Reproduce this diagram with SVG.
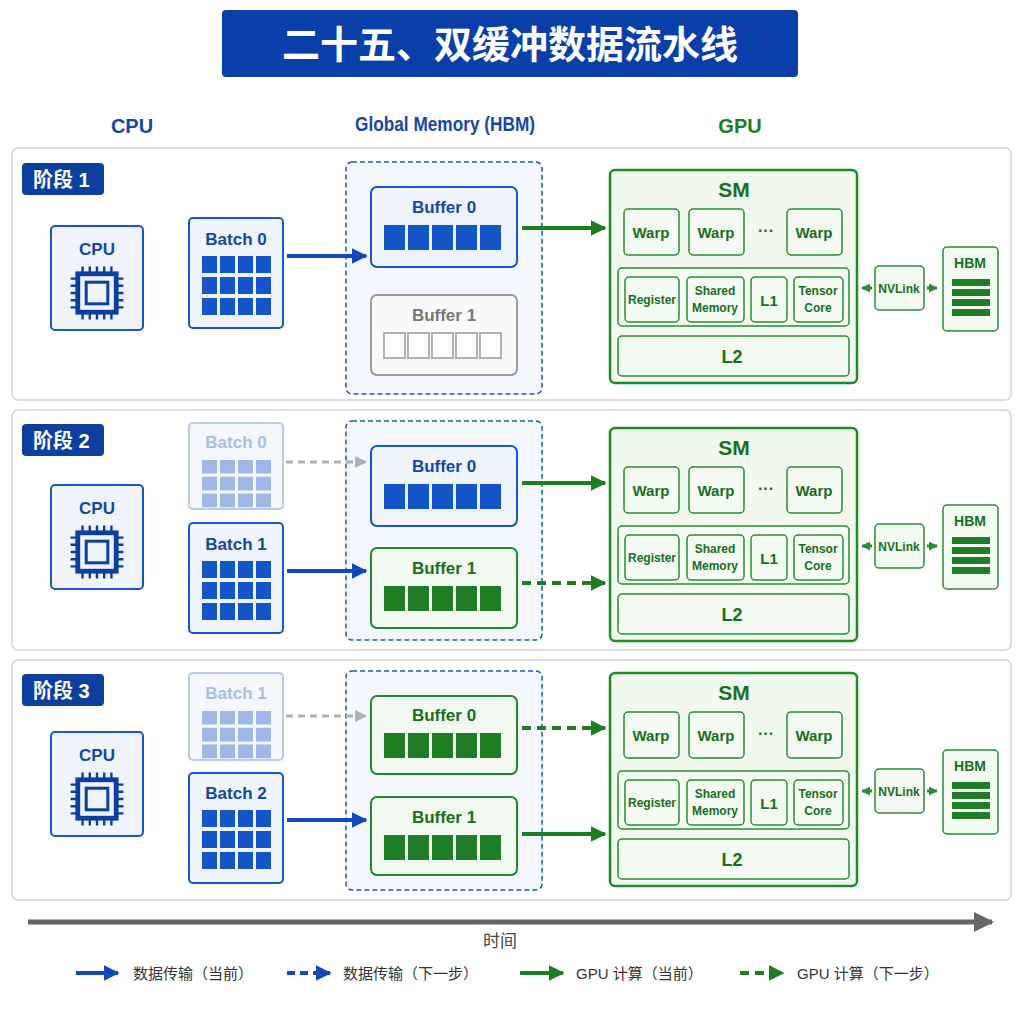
<svg xmlns="http://www.w3.org/2000/svg" xmlns:xlink="http://www.w3.org/1999/xlink" width="1024" height="1024" viewBox="0 0 1024 1024">
<style>
text{font-family:"Liberation Sans","Noto Sans CJK SC",sans-serif;font-weight:bold;text-anchor:middle}
.panel{fill:#fff;stroke:#d4d4d4;stroke-width:1.5}
.stage{fill:#0d3f9f}
.stxt{fill:#fff;font-size:20px;text-anchor:start}
.bbox{fill:#eef3fc;stroke:#1a56c8;stroke-width:2}
.bt{fill:#1747a6;font-size:17px}
.fbox{fill:#f4f7fd;stroke:#b7cbef;stroke-width:2}
.ft{fill:#a9bde6;font-size:17px}
.bc{fill:#1456c8}
.fc{fill:#9fb8e8}
.gbox{fill:#f2f9f0;stroke:#1e8a2a;stroke-width:2}
.gt{fill:#1a6e22;font-size:17px}
.gc{fill:#1f7d25}
.grbox{fill:#fafafa;stroke:#9a9a9a;stroke-width:2}
.grt{fill:#777;font-size:17px}
.gec{fill:#fff;stroke:#999;stroke-width:1.5}
.mem{fill:#f4f7fd;stroke:#1a56c8;stroke-width:1.5;stroke-dasharray:5 3}
.sm{fill:#f1f9ef;stroke:#1e8a2a;stroke-width:2.5}
.smi{fill:#f3faf1;stroke:#2e8a36;stroke-width:1.5}
.smt{fill:#1a6e22}
.hdr{fill:#1747a6;font-size:20px}
.ab{stroke:#1447b8;stroke-width:4;fill:none}
.ag{stroke:#1e7d22;stroke-width:4;fill:none}
.agd{stroke:#1e7d22;stroke-width:4;fill:none;stroke-dasharray:9 6}
.agr{stroke:#b0b0b0;stroke-width:3;fill:none;stroke-dasharray:7 5}
.lg{fill:#333;font-size:15px;font-weight:normal;text-anchor:start}
.nv{stroke:#2e8a36;stroke-width:3;fill:none}
</style>
<defs>
<marker id="mb" viewBox="0 0 10 10" refX="9" refY="5" markerWidth="4" markerHeight="4" orient="auto" markerUnits="strokeWidth"><path d="M0 0L10 5L0 10z" fill="#1447b8"/></marker>
<marker id="mg" viewBox="0 0 10 10" refX="9" refY="5" markerWidth="4" markerHeight="4" orient="auto" markerUnits="strokeWidth"><path d="M0 0L10 5L0 10z" fill="#1e7d22"/></marker>
<marker id="mgs" viewBox="0 0 10 10" refX="9" refY="5" markerWidth="3" markerHeight="3" orient="auto" markerUnits="strokeWidth"><path d="M0 0L10 5L0 10z" fill="#2e8a36"/></marker>
<marker id="mgr" viewBox="0 0 10 10" refX="9" refY="5" markerWidth="4" markerHeight="4" orient="auto" markerUnits="strokeWidth"><path d="M0 0L10 5L0 10z" fill="#b0b0b0"/></marker>
<marker id="mk" viewBox="0 0 10 10" refX="9" refY="5" markerWidth="4" markerHeight="4" orient="auto" markerUnits="strokeWidth"><path d="M0 0L10 5L0 10z" fill="#666"/></marker>
<g id="chip">
<rect x="-16" y="-16" width="32" height="32" fill="none" stroke="#0d3f9f" stroke-width="4"/>
<rect x="-9" y="-9" width="18" height="18" fill="none" stroke="#0d3f9f" stroke-width="2.5"/>
<path d="M-12-22v6M-6-22v6M0-22v6M6-22v6M12-22v6M-12 16v6M-6 16v6M0 16v6M6 16v6M12 16v6M-22-12h6M-22-6h6M-22 0h6M-22 6h6M-22 12h6M16-12h6M16-6h6M16 0h6M16 6h6M16 12h6" stroke="#0d3f9f" stroke-width="2"/>
</g>
<g id="cpu"><rect x="51" y="0" width="92" height="104" rx="4" class="bbox"/><text x="97" y="29" class="bt" font-size="19">CPU</text><use xlink:href="#chip" transform="translate(97 67) scale(1.2)"/></g>
<g id="grid12b"><path d="M202 0h15v17h-15zM220 0h15v17h-15zM238 0h15v17h-15zM256 0h15v17h-15zM202 21h15v17h-15zM220 21h15v17h-15zM238 21h15v17h-15zM256 21h15v17h-15zM202 42h15v17h-15zM220 42h15v17h-15zM238 42h15v17h-15zM256 42h15v17h-15z"/></g>
<path id="cells5" d="M384 0h21v25h-21zM408 0h21v25h-21zM432 0h21v25h-21zM456 0h21v25h-21zM480 0h21v25h-21z"/>
<g id="gpu">
<rect x="610" y="0" width="247" height="213" rx="5" class="sm"/>
<text x="734" y="27" class="smt" font-size="21">SM</text>
<rect x="624" y="39" width="55" height="46" rx="4" class="smi"/><text x="651" y="68" class="smt" font-size="15">Warp</text>
<rect x="689" y="39" width="55" height="46" rx="4" class="smi"/><text x="716" y="68" class="smt" font-size="15">Warp</text>
<text x="766" y="66" class="smt" font-size="16">···</text>
<rect x="787" y="39" width="55" height="46" rx="4" class="smi"/><text x="814" y="68" class="smt" font-size="15">Warp</text>
<rect x="618" y="98" width="231" height="58" rx="4" class="smi"/>
<rect x="625" y="107" width="54" height="45" rx="4" class="smi"/><text x="652" y="134" class="smt" font-size="12">Register</text>
<rect x="687" y="107" width="57" height="45" rx="4" class="smi"/><text x="715" y="125" class="smt" font-size="12">Shared</text><text x="715" y="142" class="smt" font-size="12">Memory</text>
<rect x="751" y="107" width="36" height="45" rx="4" class="smi"/><text x="769" y="136" class="smt" font-size="15">L1</text>
<rect x="794" y="107" width="49" height="45" rx="4" class="smi"/><text x="818" y="125" class="smt" font-size="12">Tensor</text><text x="818" y="142" class="smt" font-size="12">Core</text>
<rect x="618" y="166" width="231" height="40" rx="4" class="smi"/><text x="732" y="193" class="smt" font-size="18">L2</text>
<rect x="875" y="96" width="49" height="44" rx="4" class="smi"/><text x="899" y="123" class="smt" font-size="12">NVLink</text>
<path d="M872 118h-10" class="nv" marker-end="url(#mgs)"/>
<path d="M927 118h10" class="nv" marker-end="url(#mgs)"/>
<rect x="943" y="77" width="55" height="84" rx="4" class="smi"/><text x="970" y="98" class="smt" font-size="14">HBM</text>
<path d="M952 109h38v7h-38zM952 119h38v7h-38zM952 129h38v7h-38zM952 139h38v7h-38z" fill="#1f7d25"/>
</g>
</defs>

<g id="title"><rect x="222" y="10" width="576" height="67" rx="4" fill="#0a3ea8"/><text x="510" y="58" fill="#fff" font-size="38">二十五、双缓冲数据流水线</text></g>
<g id="headers"><text x="132" y="133" class="hdr">CPU</text><text x="445" y="131" class="hdr" font-size="17" textLength="180" lengthAdjust="spacingAndGlyphs">Global Memory (HBM)</text><text x="740" y="133" class="hdr" style="fill:#1a7d22">GPU</text></g>

<rect x="12" y="148" width="999" height="252" rx="6" class="panel"/>
<rect x="12" y="410" width="999" height="240" rx="6" class="panel"/>
<rect x="12" y="660" width="999" height="240" rx="6" class="panel"/>

<g id="stage1"><rect x="22" y="163" width="82" height="32" rx="4" class="stage"/><text x="33" y="187" class="stxt">阶段 1</text></g>
<g id="cpu1" transform="translate(0 226)"><use xlink:href="#cpu"/></g>
<g id="batch0_1"><rect x="189" y="218" width="94" height="110" rx="4" class="bbox"/><text x="236" y="245" class="bt">Batch 0</text><use xlink:href="#grid12b" transform="translate(0 256)" class="bc"/></g>
<rect x="346" y="162" width="196" height="232" rx="6" class="mem"/>
<g id="buf0_1"><rect x="371" y="187" width="146" height="80" rx="6" class="bbox"/><text x="444" y="213" class="bt">Buffer 0</text><use xlink:href="#cells5" transform="translate(0 225)" class="bc"/></g>
<g id="buf1_1"><rect x="371" y="295" width="146" height="80" rx="6" class="grbox"/><text x="444" y="321" class="grt">Buffer 1</text><use xlink:href="#cells5" transform="translate(0 333)" class="gec"/></g>
<g id="gpu1" transform="translate(0 170)"><use xlink:href="#gpu"/></g>

<g id="stage2"><rect x="22" y="424" width="82" height="32" rx="4" class="stage"/><text x="33" y="448" class="stxt">阶段 2</text></g>
<g id="cpu2" transform="translate(0 485)"><use xlink:href="#cpu"/></g>
<g id="batch0_2"><rect x="189" y="423" width="94" height="86" rx="4" class="fbox"/><text x="236" y="448" class="ft">Batch 0</text><use xlink:href="#grid12b" transform="translate(0 460) scale(1 0.8)" class="fc"/></g>
<g id="batch1_2"><rect x="189" y="523" width="94" height="110" rx="4" class="bbox"/><text x="236" y="550" class="bt">Batch 1</text><use xlink:href="#grid12b" transform="translate(0 561)" class="bc"/></g>
<rect x="346" y="421" width="196" height="219" rx="6" class="mem"/>
<g id="buf0_2"><rect x="371" y="446" width="146" height="80" rx="6" class="bbox"/><text x="444" y="472" class="bt">Buffer 0</text><use xlink:href="#cells5" transform="translate(0 484)" class="bc"/></g>
<g id="buf1_2"><rect x="371" y="548" width="146" height="80" rx="6" class="gbox"/><text x="444" y="574" class="gt">Buffer 1</text><use xlink:href="#cells5" transform="translate(0 586)" class="gc"/></g>
<g id="gpu2" transform="translate(0 428)"><use xlink:href="#gpu"/></g>

<g id="stage3"><rect x="22" y="674" width="82" height="32" rx="4" class="stage"/><text x="33" y="698" class="stxt">阶段 3</text></g>
<g id="cpu3" transform="translate(0 732)"><use xlink:href="#cpu"/></g>
<g id="batch1_3"><rect x="189" y="673" width="94" height="87" rx="4" class="fbox"/><text x="236" y="699" class="ft">Batch 1</text><use xlink:href="#grid12b" transform="translate(0 711) scale(1 0.8)" class="fc"/></g>
<g id="batch2_3"><rect x="189" y="773" width="94" height="110" rx="4" class="bbox"/><text x="236" y="799" class="bt">Batch 2</text><use xlink:href="#grid12b" transform="translate(0 810)" class="bc"/></g>
<rect x="346" y="671" width="196" height="219" rx="6" class="mem"/>
<g id="buf0_3"><rect x="371" y="696" width="146" height="78" rx="6" class="gbox"/><text x="444" y="721" class="gt">Buffer 0</text><use xlink:href="#cells5" transform="translate(0 733)" class="gc"/></g>
<g id="buf1_3"><rect x="371" y="797" width="146" height="78" rx="6" class="gbox"/><text x="444" y="823" class="gt">Buffer 1</text><use xlink:href="#cells5" transform="translate(0 835)" class="gc"/></g>
<g id="gpu3" transform="translate(0 673)"><use xlink:href="#gpu"/></g>

<g id="connectors">
<path d="M287 256H366" class="ab" marker-end="url(#mb)"/>
<path d="M522 228H605" class="ag" marker-end="url(#mg)"/>
<path d="M286 462H366" class="agr" marker-end="url(#mgr)"/>
<path d="M287 571H366" class="ab" marker-end="url(#mb)"/>
<path d="M522 483H605" class="ag" marker-end="url(#mg)"/>
<path d="M522 583H605" class="agd" marker-end="url(#mg)"/>
<path d="M286 716H366" class="agr" marker-end="url(#mgr)"/>
<path d="M287 820H366" class="ab" marker-end="url(#mb)"/>
<path d="M522 728H605" class="agd" marker-end="url(#mg)"/>
<path d="M522 834H605" class="ag" marker-end="url(#mg)"/>
<path d="M28 922H992" stroke="#666" stroke-width="5" marker-end="url(#mk)"/>
</g>
<text x="500" y="947" fill="#444" font-size="17" style="font-weight:normal">时间</text>

<g id="legend">
<path d="M76 973H118" class="ab" marker-end="url(#mb)"/><text x="133" y="979" class="lg">数据传输（当前）</text>
<path d="M287 973H330" class="ab" stroke-dasharray="8 5" marker-end="url(#mb)"/><text x="343" y="979" class="lg">数据传输（下一步）</text>
<path d="M520 973H563" class="ag" marker-end="url(#mg)"/><text x="576" y="979" class="lg">GPU 计算（当前）</text>
<path d="M740 973H783" class="agd" marker-end="url(#mg)"/><text x="797" y="979" class="lg">GPU 计算（下一步）</text>
</g>
</svg>
